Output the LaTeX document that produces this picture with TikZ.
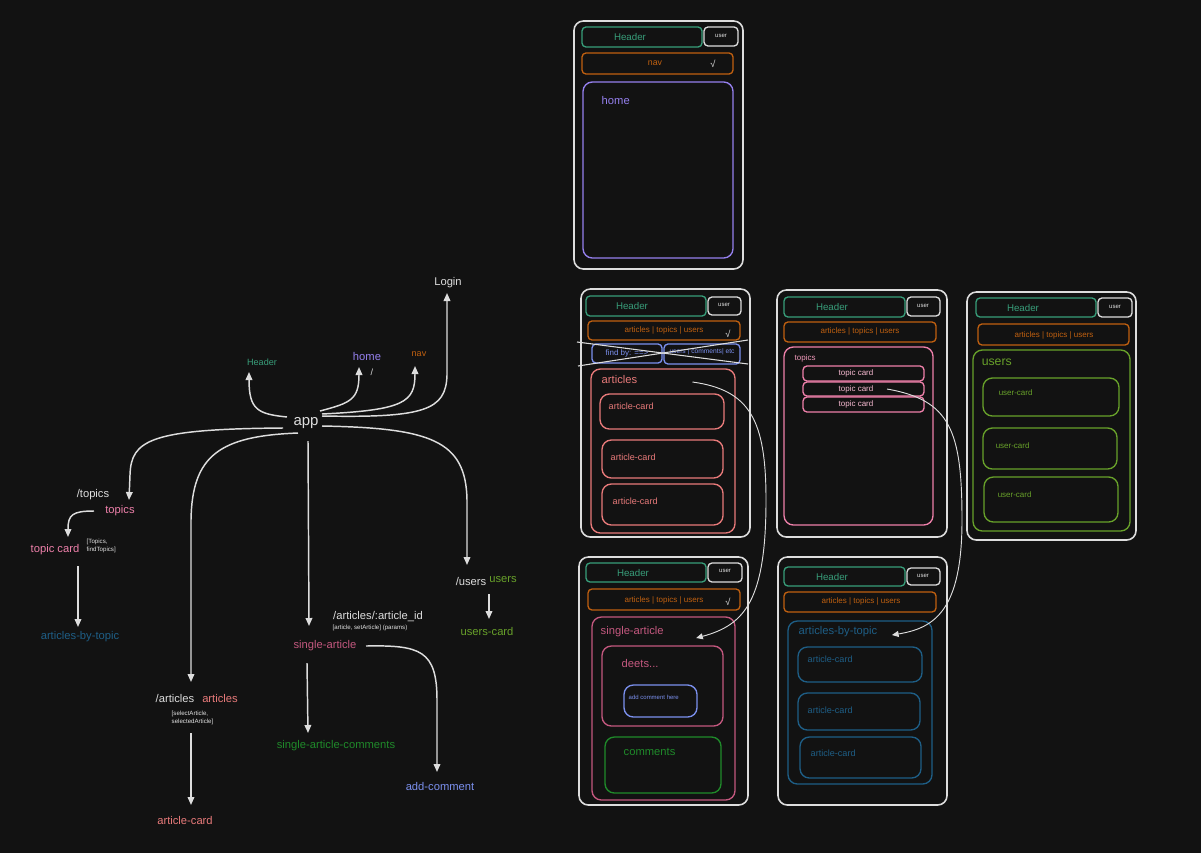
\documentclass[tikz,border=0pt]{standalone}
\usepackage{fontspec}
\setmainfont{Liberation Sans}
\usetikzlibrary{arrows.meta,calc}

\definecolor{bgc}{HTML}{121212}
\definecolor{ink}{HTML}{DDDDDD}
\definecolor{hdrgreen}{HTML}{389E7A}
\definecolor{navorange}{HTML}{C06010}
\definecolor{homepurple}{HTML}{9580EE}
\definecolor{artred}{HTML}{E87A7A}
\definecolor{topicpink}{HTML}{EE80AA}
\definecolor{singlepink}{HTML}{C4587F}
\definecolor{usergreen}{HTML}{68A12A}
\definecolor{cmtgreen}{HTML}{1F8A2A}
\definecolor{addblue}{HTML}{7B90EE}
\definecolor{abtblue}{HTML}{1E5E86}

\tikzset{every picture/.style={line width=1.1pt},
  big/.style={inner sep=0.75pt,font=\fontsize{11.2}{13}\selectfont,text=ink},
  lbl/.style={inner sep=0.75pt,font=\fontsize{8.4}{10}\selectfont},
  mid/.style={inner sep=0.75pt,font=\fontsize{6.8}{8}\selectfont},
  note/.style={inner sep=0.75pt,font=\fontsize{4.6}{6}\selectfont,align=left,text=ink!85},
  link/.style={draw=ink,-{Triangle[length=6pt,width=5pt]}},
  thinlink/.style={draw=ink,line width=0.7pt,-{Triangle[length=5pt,width=4.5pt]}},
  phone/.style={draw=ink,line width=1.2pt,rounded corners=7pt},
  box/.style={line width=1pt,rounded corners=3pt},
  panel/.style={line width=1pt,rounded corners=7pt},
  hd/.style={inner sep=0.75pt,font=\fontsize{7.3}{9}\selectfont,text=hdrgreen},
  usr/.style={inner sep=0.75pt,font=\fontsize{4.5}{6}\selectfont,text=ink!85},
  nv/.style={inner sep=0.75pt,font=\fontsize{6}{7}\selectfont,text=navorange},
  chk/.style={inner sep=0.75pt,font=\fontsize{7}{8}\selectfont,text=ink!80}}

\begin{document}
\begin{tikzpicture}[x=0.75pt,y=0.75pt,yscale=-1]
\useasboundingbox (0,0) rectangle (1201,853);
\fill [bgc] (0,0) rectangle (1201,853);

% Text Node
\node (app) [big] at (306,423) {app};
\node (login) [lbl,text=ink] at (448,283) {Login};
\node (hdr) [mid,text=hdrgreen] at (262,362) {Header};
\node (home) [lbl,text=homepurple] at (367,356) {home};
\node (homeurl) [mid,text=ink] at (372,372) {/};
\node (navl) [mid,text=navorange] at (419,354) {nav};
\node (topicsurl) [lbl,text=ink] at (93,495) {/topics};
\node (topics) [lbl,text=topicpink] at (120,511) {topics};
\node (tcard) [lbl,text=topicpink] at (55,550) {topic card};
\node (tcardnote) [note,anchor=west] at (85,546) {[Topics,\\findTopics]};
\node (abt) [lbl,text=abtblue] at (80,637) {articles-by-topic};
\node (usersurl) [lbl,text=ink] at (471,581) {/users};
\node (users) [lbl,text=usergreen] at (503,580) {users};
\node (ucard) [lbl,text=usergreen] at (487,631) {users-card};
\node (sarturl) [lbl,text=ink] at (378,617) {/articles/:article\_id};
\node (sartnote) [note] at (370,628) {[article, setArticle] (params)};
\node (sart) [lbl,text=singlepink] at (325,646) {single-article};
\node (sac) [lbl,text=cmtgreen] at (336,746) {single-article-comments};
\node (addc) [lbl,text=addblue] at (440,786) {add-comment};
\node (arturl) [lbl,text=ink] at (175,698) {/articles};
\node (arts) [lbl,text=artred] at (220,698) {articles};
\node (artnote) [note,anchor=west] at (170,718) {[selectArticle,\\selectedArticle]};
\node (acard) [lbl,text=artred] at (185,820) {article-card};

%Curve Lines
\draw [link] ($(app)+(-19,-6)$) .. controls (258,414) and (249,410) .. ($(hdr)+(-13,10)$);
\draw [link] ($(app)+(14,-12)$) .. controls (350,403) and (359,400) .. ($(home)+(-8,11)$);
\draw [link] ($(app)+(16,-9)$) .. controls (405,410) and (415,402) .. ($(navl)+(-4,12)$);
\draw [link] ($(app)+(16,-7)$) .. controls (425,418) and (446,410) .. (447,375) -- ($(login)+(-1,10)$);
\draw [link] ($(app)+(-23,5)$) .. controls (150,429) and (131,440) .. (130,475) -- ($(topics)+(9,-11)$);
\draw [link] ($(app)+(-8,10)$) .. controls (220,436) and (192,455) .. (191,520) -- ($(arturl)+(16,-16)$);
\draw [link] ($(app)+(16,3)$) .. controls (430,428) and (466,440) .. (467,500) -- ($(usersurl)+(-4,-16)$);
\draw [link] ($(topics)+(-26,0)$) .. controls (72,511) and (68,515) .. ($(tcard)+(13,-13)$);
\draw [link] ($(sart)+(41,0)$) .. controls (420,645) and (437,650) .. (437,700) -- ($(addc)+(-3,-14)$);
%Straight Lines
\draw [link] ($(app)+(2,18)$) -- ($(sart)+(-16,-20)$);
\draw [link] ($(tcard)+(23,16)$) -- ($(abt)+(-2,-10)$);
\draw [link] ($(users)+(-14,14)$) -- ($(ucard)+(2,-12)$);
\draw [link] ($(sart)+(-18,17)$) -- ($(sac)+(-28,-13)$);
\draw [link] ($(arturl)+(16,35)$) -- ($(acard)+(6,-15)$);

%Shape: Phone - home
\draw [phone] (574,21) rectangle (743,269);
\draw [box,draw=hdrgreen] (582,27) rectangle (702,47);
\draw [box,draw=ink] (704,27) rectangle (738,46);
\draw [box,draw=navorange] (582,53) rectangle (733,74);
\draw [panel,draw=homepurple] (583,82) rectangle (733,258);
\node (p1hdr) [hd] at (630,37) {Header};
\node (p1usr) [usr] at (721,36) {user};
\node (p1nav) [nv,font=\fontsize{6.6}{8}\selectfont] at (655,63) {nav};
\node (p1chk) [chk] at (713,64) {√};
\node (p1home) [lbl,text=homepurple,anchor=west] at (600,100) {home};

%Shape: Phone - articles
\draw [phone] (581,289) rectangle (750,537);
\draw [box,draw=hdrgreen] (586,296) rectangle (706,316);
\draw [box,draw=ink] (708,297) rectangle (741,315);
\draw [box,draw=navorange] (588,321) rectangle (740,340);
\draw [box,draw=addblue] (592,344) rectangle (662,363);
\draw [box,draw=addblue] (664,344) rectangle (740,364);
\draw [panel,draw=artred] (591,369) rectangle (735,533);
\draw [panel,draw=artred] (600,394) rectangle (724,429);
\draw [panel,draw=artred] (602,440) rectangle (723,478);
\draw [panel,draw=artred] (602,484) rectangle (723,525);
\node (p2hdr) [hd] at (632,306) {Header};
\node (p2usr) [usr] at (724,305) {user};
\node (p2nav) [nv] at (664,330) {articles | topics | users};
\node (p2chk) [chk] at (728,334) {√};
\node (p2find) [nv,text=addblue] at (627,353) {find by: ==>};
\node (p2more) [usr,font=\fontsize{5}{6}\selectfont,text=addblue] at (702,352) {users | comments| etc};
\draw [ink,line width=0.8pt] (577,342) -- (748,364);
\draw [ink,line width=0.8pt] (578,366) -- (748,340);
\node (p2arts) [lbl,text=artred,anchor=west] at (600,379) {articles};
\node (p2ac1) [mid,text=artred,anchor=west] at (607,406) {article-card};
\node (p2ac2) [mid,text=artred,anchor=west] at (609,457) {article-card};
\node (p2ac3) [mid,text=artred,anchor=west] at (611,501) {article-card};

%Shape: Phone - topics
\draw [phone] (777,290) rectangle (947,537);
\draw [box,draw=hdrgreen] (784,297) rectangle (905,317);
\draw [box,draw=ink] (907,297) rectangle (940,316);
\draw [box,draw=navorange] (784,322) rectangle (936,342);
\draw [panel,draw=topicpink] (784,347) rectangle (933,525);
\draw [box,draw=topicpink] (803,366) rectangle (924,381);
\draw [box,draw=topicpink] (803,382) rectangle (924,396);
\draw [box,draw=topicpink] (803,397) rectangle (924,412);
\node (p3hdr) [hd] at (832,307) {Header};
\node (p3usr) [usr] at (923,306) {user};
\node (p3nav) [nv] at (860,331) {articles | topics | users};
\node (p3top) [nv,text=topicpink!80!white,anchor=west] at (793,358) {topics};
\node (p3tc1) [nv,text=topicpink!55!white] at (856,373) {topic card};
\node (p3tc2) [nv,text=topicpink!55!white] at (856,389) {topic card};
\node (p3tc3) [nv,text=topicpink!55!white] at (856,404) {topic card};

%Shape: Phone - users
\draw [phone] (967,292) rectangle (1136,540);
\draw [box,draw=hdrgreen] (976,298) rectangle (1096,317);
\draw [box,draw=ink] (1098,298) rectangle (1132,317);
\draw [box,draw=navorange] (978,324) rectangle (1129,345);
\draw [panel,draw=usergreen] (973,350) rectangle (1130,531);
\draw [panel,draw=usergreen] (983,378) rectangle (1119,416);
\draw [panel,draw=usergreen] (983,428) rectangle (1117,469);
\draw [panel,draw=usergreen] (984,477) rectangle (1118,522);
\node (p4hdr) [hd] at (1023,308) {Header};
\node (p4usr) [usr] at (1115,307) {user};
\node (p4nav) [nv] at (1054,335) {articles | topics | users};
\node (p4users) [lbl,font=\fontsize{9.2}{11}\selectfont,text=usergreen,anchor=west] at (980,362) {users};
\node (p4uc1) [nv,text=usergreen,anchor=west] at (997,393) {user-card};
\node (p4uc2) [nv,text=usergreen,anchor=west] at (994,446) {user-card};
\node (p4uc3) [nv,text=usergreen,anchor=west] at (996,495) {user-card};

%Shape: Phone - single-article
\draw [phone] (579,557) rectangle (748,805);
\draw [box,draw=hdrgreen] (586,563) rectangle (706,582);
\draw [box,draw=ink] (708,563) rectangle (742,582);
\draw [box,draw=navorange] (588,589) rectangle (740,610);
\draw [panel,draw=singlepink] (592,617) rectangle (735,800);
\draw [panel,draw=singlepink] (602,646) rectangle (723,726);
\draw [panel,draw=addblue] (624,685) rectangle (697,717);
\draw [panel,draw=cmtgreen] (605,737) rectangle (721,793);
\node (p5hdr) [hd] at (633,573) {Header};
\node (p5usr) [usr] at (725,571) {user};
\node (p5nav) [nv] at (664,600) {articles | topics | users};
\node (p5chk) [chk] at (728,602) {√};
\node (p5sart) [lbl,text=singlepink,anchor=west] at (599,632) {single-article};
\node (p5deets) [lbl,text=singlepink,anchor=west] at (620,663) {deets...};
\node (p5add) [usr,text=addblue,anchor=west] at (627,697) {add comment here};
\node (p5cmt) [lbl,text=cmtgreen,anchor=west] at (622,752) {comments};

%Shape: Phone - articles-by-topic
\draw [phone] (778,557) rectangle (947,805);
\draw [box,draw=hdrgreen] (784,567) rectangle (905,586);
\draw [box,draw=ink] (907,568) rectangle (940,585);
\draw [box,draw=navorange] (784,592) rectangle (936,612);
\draw [panel,draw=abtblue] (788,621) rectangle (932,784);
\draw [panel,draw=abtblue] (798,647) rectangle (922,682);
\draw [panel,draw=abtblue] (798,693) rectangle (920,730);
\draw [panel,draw=abtblue] (800,737) rectangle (921,778);
\node (p6hdr) [hd] at (832,577) {Header};
\node (p6usr) [usr] at (923,576) {user};
\node (p6nav) [nv] at (861,601) {articles | topics | users};
\node (p6abt) [lbl,text=abtblue,anchor=west] at (797,632) {articles-by-topic};
\node (p6ac1) [mid,text=abtblue,anchor=west] at (806,659) {article-card};
\node (p6ac2) [mid,text=abtblue,anchor=west] at (806,710) {article-card};
\node (p6ac3) [mid,text=abtblue,anchor=west] at (809,753) {article-card};

%Curve Lines between phones
\draw [thinlink] ($(p2arts)+(73,3)$) .. controls (750,390) and (766,420) .. (766,500) .. controls (766,600) and (745,625) .. ($(p5sart)+(64,6)$);
\draw [thinlink] ($(p3tc2)+(31,0)$) .. controls (950,400) and (962,430) .. (962,520) .. controls (962,610) and (935,628) .. ($(p6abt)+(54,3)$);

\end{tikzpicture}
\end{document}
